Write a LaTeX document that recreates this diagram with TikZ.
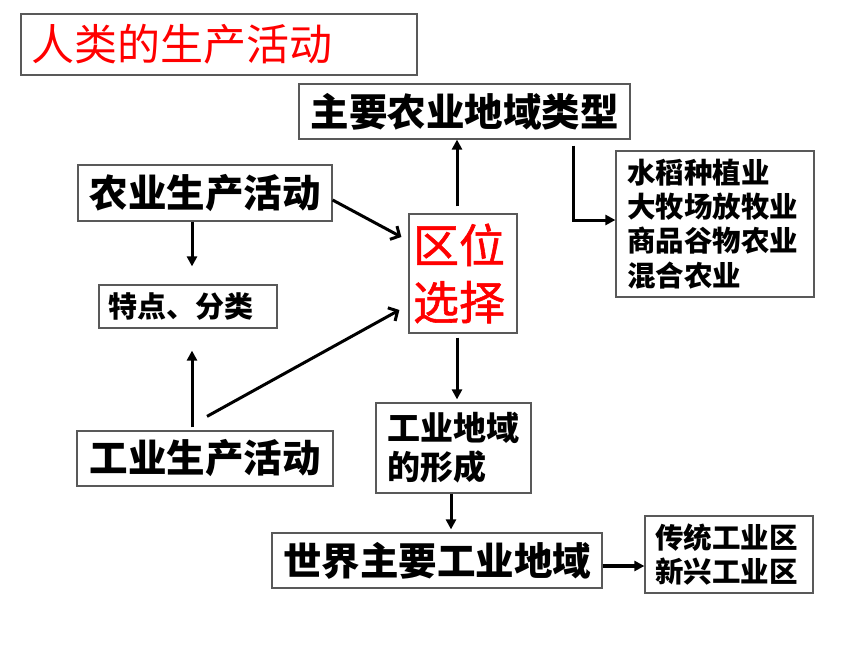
\documentclass[tikz,border=0pt]{standalone}
\usepackage{fontspec}
\setmainfont{Noto Sans CJK SC}
\newfontfamily\redfont{Noto Sans CJK SC}[FakeBold=1.2]
\usetikzlibrary{arrows.meta}
\newcommand\fsz[2]{\fontsize{#1}{#2}\selectfont}

\begin{document}
\begin{tikzpicture}[x=1pt,y=-1pt,
  box/.style={draw=black!65,line width=1.2pt,inner sep=0pt},
  big/.style={font=\bfseries\fsz{38.5}{46}},
  small/.style={font=\bfseries\fsz{28.5}{34.3}},
  arr/.style={line width=3pt,-{Triangle[length=10pt,width=10pt]}},
  barb/.style={line width=3pt,-{Straight Barb[length=7pt,width=15pt]}}]
\useasboundingbox (0,0) rectangle (860,645);
\node[box,minimum width=396pt,minimum height=61pt,text width=376pt,align=left,text=red,font=\fsz{43}{50}] (title) at (219,44.5) {人类的生产活动};
\node[box,big,minimum width=331pt,minimum height=55pt] (agrtype) at (464.5,111.5) {主要农业地域类型};
\node[box,small,minimum width=198pt,minimum height=146pt,text width=176pt,align=left] (agrlist) at (715,224) {水稻种植业\\大牧场放牧业\\商品谷物农业\\混合农业};
\node[box,big,minimum width=254pt,minimum height=56pt] (agr) at (205,193) {农业生产活动};
\node[box,minimum width=108pt,minimum height=119pt,text width=100pt,align=left,text=red,font=\redfont\fsz{46}{57}] (loc) at (463,273.5) {区位\\选择};
\node[box,minimum width=178pt,minimum height=43pt,text width=160pt,align=left,font=\bfseries\fsz{29}{34}] (feat) at (188,306.5) {特点、分类};
\node[box,big,minimum width=256pt,minimum height=55pt] (ind) at (205,458.5) {工业生产活动};
\node[box,minimum width=155pt,minimum height=90pt,text width=133pt,align=left,font=\bfseries\fsz{33}{39}] (indform) at (453.5,448) {工业地域\\的形成};
\node[box,big,minimum width=330pt,minimum height=55pt] (world) at (437,560.5) {世界主要工业地域};
\node[box,small,minimum width=168pt,minimum height=77pt,text width=148pt,align=left] (indlist) at (729,554.5) {传统工业区\\新兴工业区};

\draw[arr,shorten <=7pt] ([xshift=-6pt]loc.north) -- ([xshift=-6pt]loc.north |- agrtype.south);
\draw[arr,shorten <=6pt] ([xshift=108.5pt]agrtype.south) |- ([yshift=4pt]agrlist.west);
\draw[barb] ([yshift=-7pt]agr.east) -- ([xshift=-7pt,yshift=36.5pt]loc.west);
\draw[barb] ([xshift=2pt,yshift=14pt]ind.north) -- ([xshift=-9pt,yshift=-36.5pt]loc.west);
\draw[arr,shorten >=18pt] ([xshift=-13pt]agr.south) -- ([xshift=-13pt]agr.south |- feat.north);
\draw[arr,shorten <=3pt,shorten >=22pt] ([xshift=-13pt]ind.north) -- ([xshift=-13pt]ind.north |- feat.south);
\draw[arr,shorten <=4pt,shorten >=3pt] ([xshift=-6pt]loc.south) -- ([xshift=-6pt]loc.south |- indform.north);
\draw[arr,shorten >=3pt] ([xshift=-2.5pt]indform.south) -- ([xshift=-2.5pt]indform.south |- world.north);
\draw[arr,line width=4pt] ([yshift=-5.5pt]world.east) -- ([yshift=-5.5pt]world.east -| indlist.west);
\end{tikzpicture}
\end{document}
